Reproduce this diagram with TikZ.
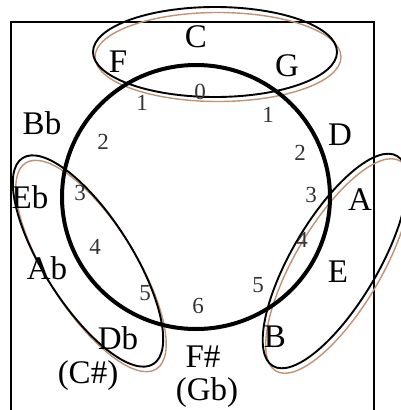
\documentclass[tikz,border=0pt]{standalone}
\usepackage{fontspec}
\setmainfont{Liberation Serif}
\definecolor{ringbrown}{RGB}{192,146,118}
\begin{document}
\begin{tikzpicture}[x=1pt,y=-1pt,
  notename/.style={font=\fontsize{33}{36}\selectfont,inner sep=0pt},
  dist/.style={font=\fontsize{23}{25}\selectfont,inner sep=0pt,text=black!80},
  loop/.style={line width=1.9pt},
  shadow/.style={line width=1.4pt,draw=ringbrown}]
\useasboundingbox (0,0) rectangle (401,410);
\clip (0,0) rectangle (401,410);
% coordinates
\coordinate (O)  at (196,197);%
\coordinate (TC) at (215,52);%
\coordinate (LC) at (88,261);%
\coordinate (RC) at (335,261);%
\coordinate (FSW) at ( 11,410);%
\coordinate (FNW) at ( 11, 22);%
\coordinate (FNE) at (374, 22);%
\coordinate (FSE) at (374,410);%
% frame
\draw[line width=2pt] (FSW) -- (FNW) -- (FNE) -- (FSE);
% groups
\draw[shadow] ([shift={(3,5)}]TC) ellipse [x radius=123, y radius=44.5];
\draw[loop]   (TC) ellipse [x radius=122, y radius=45];
\draw[shadow] ([shift={(3,5)}]LC) ellipse [x radius=122, y radius=44, rotate=-57.6];
\draw[loop]   (LC) ellipse [x radius=122, y radius=44, rotate=-57.6];
\draw[shadow] ([shift={(3,5)}]RC) ellipse [x radius=122, y radius=43, rotate=59.4];
\draw[loop]   (RC) ellipse [x radius=122, y radius=43, rotate=59.4];
% circle
\draw[line width=4pt] (O) ellipse [x radius=134, y radius=132];
% note names
\node[notename] (C)  at (196, 37) {C};
\node[notename] (F)  at (118, 62) {F};
\node[notename] (G)  at (287, 66) {G};
\node[notename] (Bb) at ( 42,123) {Bb};
\node[notename] (D)  at (340,135) {D};
\node[notename] (Eb) at ( 30,197) {Eb};
\node[notename] (A)  at (360,200) {A};
\node[notename] (Ab) at ( 47,268) {Ab};
\node[notename] (E)  at (338,272) {E};
\node[notename] (Db) at (118,338) {Db};
\node[notename] (B)  at (275,337) {B};
\node[notename] (Fs) at (203,357) {F\#};
\node[notename] (Cs) at ( 88,376) {(C\#)};
\node[notename] (Gb) at (207,393) {(Gb)};
% distances
\node[dist] (d0)  at (200, 92) {0};
\node[dist] (d1l) at (142,103) {1};
\node[dist] (d1r) at (268,115) {1};
\node[dist] (d2l) at (103,142) {2};
\node[dist] (d2r) at (300,153) {2};
\node[dist] (d3l) at ( 80,193) {3};
\node[dist] (d3r) at (311,195) {3};
\node[dist] (d4l) at ( 95,247) {4};
\node[dist] (d4r) at (302,240) {4};
\node[dist] (d5l) at (145,293) {5};
\node[dist] (d5r) at (258,285) {5};
\node[dist] (d6)  at (198,306) {6};
\end{tikzpicture}
\end{document}
